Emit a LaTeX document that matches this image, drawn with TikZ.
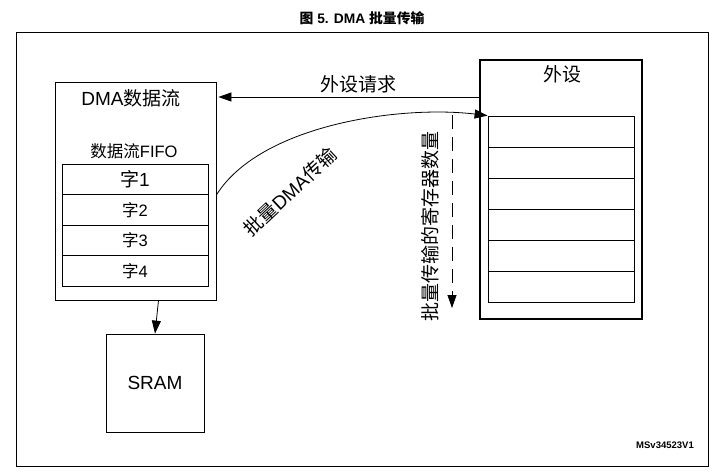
\documentclass[tikz,border=0pt]{standalone}
\usepackage{fontspec}
\setmainfont{Liberation Sans}
\newfontfamily\cjk{Noto Sans CJK SC}
\usepackage{xcolor}
\usetikzlibrary{arrows.meta, positioning, shapes}
\newcommand{\zh}[1]{{\cjk #1}}

\begin{document}
\begin{tikzpicture}[x=1pt, y=-1pt,
    box/.style={draw, line width=0.8pt, inner sep=0pt},
    big/.style={font=\fontsize{19}{22}\selectfont},
    mid/.style={font=\fontsize{16.5}{20}\selectfont},
    tip/.style={-{Triangle[length=13pt,width=9pt]}, line width=0.8pt}]
    \useasboundingbox (0,0) rectangle (720,476);
    % frame and caption
    \draw[line width=0.9pt] (16,32) rectangle (708,466);
    \node (title) at (362,18) {\fontsize{13.8}{15}\selectfont\bfseries \zh{图} 5. DMA \zh{批量传输}};
    % DMA stream with its FIFO
    \node[box, minimum width=161pt, minimum height=218pt] (stream) at (135.5,191) {};
    \node[big] (streamname) at (131,98) {DMA\zh{数据流}};
    \node[mid] (fifoname) at (134,151) {\zh{数据流}FIFO};
    \foreach \i/\f in {1/big, 2/mid, 3/mid, 4/mid} {
        \node[box, minimum width=146pt, minimum height=30.5pt, \f] (w\i) at (135,{164+30.5*(\i-0.5)}) {\zh{字}\i};
    }
    % peripheral with its registers
    \node[box, line width=2.2pt, minimum width=162pt, minimum height=259pt] (periph) at (561,189.5) {};
    \node[big] (periphname) at (562,74) {\zh{外设}};
    \foreach \i in {1,...,6} {
        \node[box, minimum width=146pt, minimum height=31pt] (r\i) at (561,{116+31*(\i-0.5)}) {};
    }
    % SRAM
    \node[box, minimum width=98pt, minimum height=98pt, big] (sram) at (155,383) {SRAM};
    % connectors
    \draw[tip] (periph.west |- 300,97) -- ([xshift=2pt]stream.east |- 300,97);
    \node[big] (reqlabel) at (358,84) {\zh{外设请求}};
    \draw[tip] ([yshift=-4pt]stream.east) .. controls (260,125) and (400,105) .. (r1.north west);
    \node[big, rotate=43] (burstlabel) at (290,192) {\zh{批量}DMA\zh{传输}};
    \coordinate (cnttop) at (452,115);
    \coordinate (cntbot) at (452,308);
    \draw[tip, dash pattern=on 14pt off 8pt] (cnttop) -- (cntbot);
    \node[big, rotate=90] (cntlabel) at (430,226) {\zh{批量传输的寄存器数量}};
    \draw[tip] ([xshift=23pt]stream.south) -- (sram.north);
    \node (docid) at (665,445) {\fontsize{9.5}{11}\selectfont\bfseries MSv34523V1};
\end{tikzpicture}
\end{document}
